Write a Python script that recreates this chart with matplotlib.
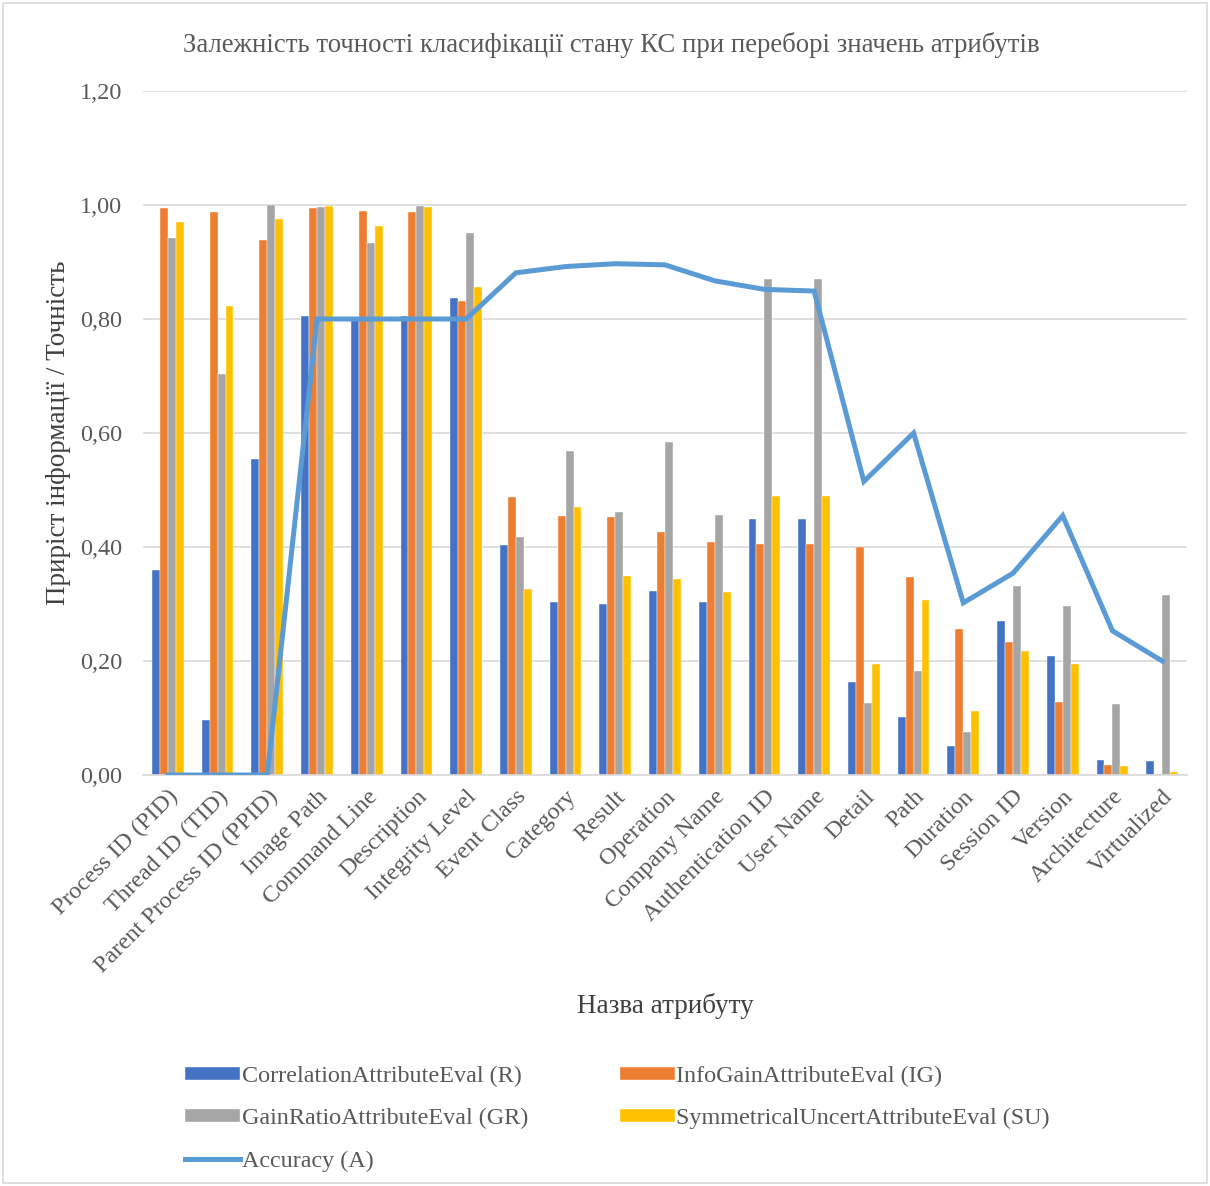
import numpy as np
import matplotlib.pyplot as plt
from matplotlib.patches import Rectangle

plt.rcParams['font.family'] = ['Liberation Serif', 'DejaVu Serif']

categories = ['Process ID (PID)', 'Thread ID (TID)', 'Parent Process ID (PPID)', 'Image Path',
              'Command Line', 'Description', 'Integrity Level', 'Event Class', 'Category',
              'Result', 'Operation', 'Company Name', 'Authentication ID', 'User Name',
              'Detail', 'Path', 'Duration', 'Session ID', 'Version', 'Architecture', 'Virtualized']

corr_r = [0.359, 0.097, 0.554, 0.805, 0.800, 0.805, 0.836, 0.403, 0.304, 0.300, 0.322,
          0.304, 0.449, 0.449, 0.164, 0.101, 0.051, 0.270, 0.209, 0.026, 0.025]
infogain_ig = [0.995, 0.987, 0.939, 0.995, 0.989, 0.988, 0.831, 0.487, 0.454, 0.452, 0.427,
               0.408, 0.406, 0.406, 0.400, 0.348, 0.257, 0.234, 0.128, 0.017, 0.002]
gainratio_gr = [0.942, 0.703, 1.000, 0.997, 0.933, 0.999, 0.951, 0.418, 0.568, 0.461, 0.585,
                0.456, 0.870, 0.870, 0.127, 0.183, 0.076, 0.332, 0.297, 0.124, 0.315]
symuncert_su = [0.970, 0.823, 0.976, 0.999, 0.963, 0.997, 0.857, 0.327, 0.471, 0.350, 0.344,
                0.321, 0.489, 0.489, 0.195, 0.307, 0.113, 0.217, 0.195, 0.015, 0.005]
accuracy_a = [0.0, 0.0, 0.0, 0.80, 0.80, 0.80, 0.80, 0.881, 0.892, 0.897, 0.895,
              0.867, 0.852, 0.849, 0.515, 0.600, 0.302, 0.354, 0.455, 0.253, 0.200]

series = [
    ('CorrelationAttributeEval (R)', corr_r, '#4472C4'),
    ('InfoGainAttributeEval (IG)', infogain_ig, '#ED7D31'),
    ('GainRatioAttributeEval (GR)', gainratio_gr, '#A5A5A5'),
    ('SymmetricalUncertAttributeEval (SU)', symuncert_su, '#FFC000'),
]

fig = plt.figure(figsize=(12.10, 11.86), dpi=100)
ax = fig.add_axes([143 / 1210, 1 - 775 / 1186, (1187 - 143) / 1210, (775 - 91) / 1186])

x = np.arange(len(categories))
w = 0.16
handles = {}
for i, (name, vals, col) in enumerate(series):
    b = ax.bar(x + (i - 1.5) * w, vals, w, color=col, label=name, zorder=2,
               edgecolor='white', linewidth=0.3)
    handles[name] = b
line, = ax.plot(x, accuracy_a, color='#5B9BD5', linewidth=3.6, label='Accuracy (A)',
                zorder=3, solid_joinstyle='miter')

ax.set_xlim(-0.5, len(categories) - 0.5)
ax.set_ylim(0, 1.2)
yt = np.arange(0, 1.21, 0.2)
ax.set_yticks(yt)
ax.set_yticklabels([f'{v:.2f}'.replace('.', ',') for v in yt], fontsize=17.5, color='#595959')
ax.set_xticks(x)
ax.set_xticklabels(categories, rotation=45, ha='right', rotation_mode='anchor',
                   fontsize=17.5, color='#595959')
ax.tick_params(axis='y', length=0, pad=15)
ax.tick_params(axis='x', length=0, pad=8)
ax.yaxis.grid(True, color='#D9D9D9', linewidth=1.2, zorder=0)
ax.set_axisbelow(True)
for s in ['top', 'right', 'left']:
    ax.spines[s].set_visible(False)
ax.spines['bottom'].set_color('#D9D9D9')
ax.spines['bottom'].set_linewidth(1.2)

ax.set_ylabel('Приріст інформації / Точність', fontsize=19.5, color='#404040', labelpad=6)
fig.text(665 / 1210, 1 - 1006 / 1186, 'Назва атрибуту', fontsize=19.5, color='#404040',
         ha='center', va='center')
fig.text(611 / 1210, 1 - 45 / 1186,
         'Залежність точності класифікації стану КС при переборі значень атрибутів',
         fontsize=19.3, color='#595959', ha='center', va='center')

leg_h = [handles[series[0][0]], handles[series[2][0]], line,
         handles[series[1][0]], handles[series[3][0]]]
leg_l = [series[0][0], series[2][0], 'Accuracy (A)', series[1][0], series[3][0]]
fig.legend(leg_h, leg_l, ncol=2, loc='upper left', bbox_to_anchor=(180 / 1210, 1 - 1061 / 1186),
           frameon=False, fontsize=17.4, labelcolor='#595959', handlelength=2.3,
           handleheight=0.45, handletextpad=0.05, columnspacing=3.8, labelspacing=0.88,
           borderaxespad=0, borderpad=0.2)

fig.patches.append(Rectangle((3 / 1210, 3 / 1186), 1204 / 1210, 1180 / 1186,
                             transform=fig.transFigure, fill=False,
                             edgecolor='#D9D9D9', linewidth=1.2))

fig.savefig('out.png', dpi=100)
